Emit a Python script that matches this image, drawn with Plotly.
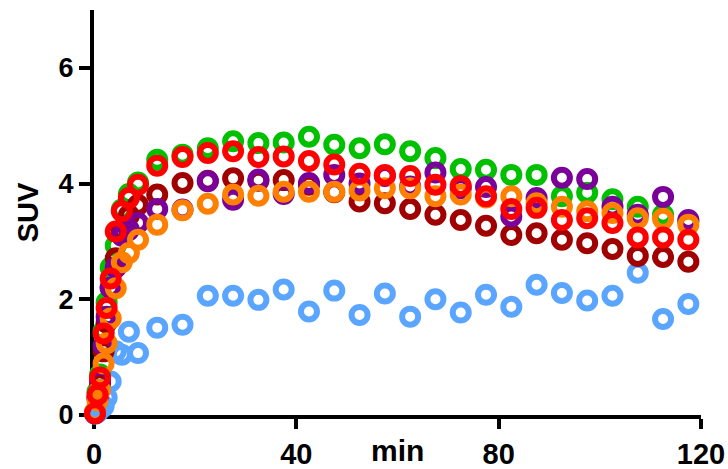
import plotly.graph_objects as go

# time points (min)
t = [0.2, 0.7, 1.2, 1.9, 2.5, 3.3, 4.3, 5.5, 6.9, 8.7,
     12.5, 17.5, 22.5, 27.5, 32.5, 37.5, 42.5, 47.5, 52.5, 57.5, 62.5,
     67.5, 72.5, 77.5, 82.5, 87.5, 92.5, 97.5, 102.5, 107.5, 112.5, 117.5]

blue = [0.02, 0.05, 0.10, 0.15, 0.30, 0.58, 1.10, 1.04, 1.44, 1.07,
        1.51, 1.56, 2.06, 2.06, 1.99, 2.17, 1.79, 2.15, 1.73, 2.10, 1.70,
        2.00, 1.77, 2.08, 1.87, 2.25, 2.11, 1.98, 2.06, 2.46, 1.66, 1.92]
green = [0.04, 0.40, 0.70, 1.45, 1.95, 2.55, 2.93, 3.55, 3.82, 4.02,
         4.41, 4.50, 4.61, 4.73, 4.70, 4.71, 4.81, 4.67, 4.61, 4.68, 4.56,
         4.44, 4.25, 4.24, 4.15, 4.15, 3.78, 3.84, 3.73, 3.60, 3.46, 3.35]
darkred = [0.03, 0.30, 0.55, 1.10, 1.60, 2.20, 2.71, 3.20, 3.45, 3.63,
           3.81, 4.01, 4.05, 4.09, 4.05, 4.06, 3.98, 3.85, 3.69, 3.66, 3.56,
           3.46, 3.37, 3.27, 3.11, 3.14, 3.03, 2.97, 2.87, 2.75, 2.73, 2.65]
purple = [0.03, 0.30, 0.60, 1.20, 1.70, 2.20, 2.55, 3.10, 3.20, 3.32,
          3.56, 3.55, 4.04, 3.72, 4.07, 3.82, 4.01, 4.15, 4.00, 4.13, 3.95,
          4.19, 3.92, 3.94, 3.43, 3.75, 4.10, 4.08, 3.60, 3.46, 3.77, 3.37]
orange = [0.05, 0.25, 0.43, 0.89, 1.24, 1.67, 2.19, 2.64, 2.80, 3.03,
          3.29, 3.54, 3.65, 3.81, 3.79, 3.86, 3.86, 3.86, 3.88, 3.92, 3.92,
          3.78, 3.81, 3.76, 3.78, 3.66, 3.60, 3.52, 3.49, 3.40, 3.39, 3.29]
red = [0.03, 0.35, 0.65, 1.41, 1.85, 2.36, 3.17, 3.52, 3.75, 3.98,
       4.31, 4.46, 4.53, 4.56, 4.46, 4.47, 4.39, 4.33, 4.17, 4.15, 4.13,
       3.98, 3.96, 3.78, 3.56, 3.58, 3.37, 3.40, 3.32, 3.07, 3.07, 3.03]

series = [
    ("blue", blue, "#5aa5ff"),
    ("green", green, "#00c000"),
    ("darkred", darkred, "#a00000"),
    ("purple", purple, "#7a0099"),
    ("orange", orange, "#ff8000"),
    ("red", red, "#ff0000"),
]

x_ticks = [0, 40, 80, 120]
y_ticks = [0, 2, 4, 6]

fig = go.Figure()
for name, vals, col in series:
    fig.add_trace(go.Scatter(
        x=t, y=vals, mode="markers", name=name, cliponaxis=False,
        marker=dict(symbol="circle-open", size=16, color=col,
                    line=dict(width=6, color=col)),
    ))

FAM = "Liberation Sans, Arial, sans-serif"

fig.update_layout(
    width=728, height=469,
    margin=dict(l=94, r=27, t=10, b=54, autoexpand=False),
    plot_bgcolor="white", paper_bgcolor="white",
    showlegend=False,
    font=dict(family=FAM, size=26, color="black"),
    xaxis=dict(range=[0, 120], tickvals=x_ticks, showline=True, linecolor="black",
               linewidth=4, ticks="outside", ticklen=10, tickwidth=4,
               tickcolor="black", showgrid=False, zeroline=False, automargin=False,
               tickfont=dict(family=FAM, size=29, weight="bold"),
               layer="below traces"),
    yaxis=dict(range=[0, 7], tickvals=y_ticks, showline=True, linecolor="black",
               linewidth=4, ticks="outside", ticklen=11, tickwidth=4,
               tickcolor="black", showgrid=False, zeroline=False, automargin=False,
               tickfont=dict(family=FAM, size=27, weight="bold"),
               title=dict(text="<b>SUV</b>", standoff=12,
                          font=dict(family=FAM, size=29)),
               layer="below traces"),
    annotations=[dict(text="<b>min</b>", xref="paper", yref="paper", x=0.5, y=-0.1333,
                      xanchor="center", yanchor="bottom", showarrow=False,
                      font=dict(family=FAM, size=30))],
)

fig.write_html("out.html")
